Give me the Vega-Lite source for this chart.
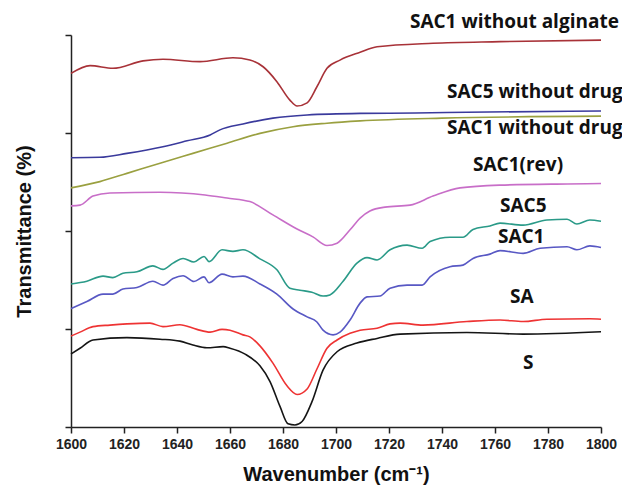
{
  "$schema": "https://vega.github.io/schema/vega-lite/v6.json",
  "width": 530,
  "height": 392,
  "autosize": {"type": "none"},
  "padding": {"left": 71, "top": 35, "right": 21, "bottom": 63},
  "background": "white",
  "config": {"view": {"stroke": null}, "font": "Liberation Sans"},
  "datasets": {
    "spectra": [
      {"sample": "SAC1 without alginate", "wavenumber": 1600, "transmittance": 90.2},
      {"sample": "SAC1 without alginate", "wavenumber": 1607.2, "transmittance": 92.2},
      {"sample": "SAC1 without alginate", "wavenumber": 1615.8, "transmittance": 91.5},
      {"sample": "SAC1 without alginate", "wavenumber": 1627.2, "transmittance": 93.4},
      {"sample": "SAC1 without alginate", "wavenumber": 1634.7, "transmittance": 93.8},
      {"sample": "SAC1 without alginate", "wavenumber": 1648.7, "transmittance": 93.2},
      {"sample": "SAC1 without alginate", "wavenumber": 1661.1, "transmittance": 94.2},
      {"sample": "SAC1 without alginate", "wavenumber": 1667.5, "transmittance": 93.6},
      {"sample": "SAC1 without alginate", "wavenumber": 1672.5, "transmittance": 91.9},
      {"sample": "SAC1 without alginate", "wavenumber": 1677.7, "transmittance": 88.1},
      {"sample": "SAC1 without alginate", "wavenumber": 1682.6, "transmittance": 83.4},
      {"sample": "SAC1 without alginate", "wavenumber": 1685.3, "transmittance": 81.9},
      {"sample": "SAC1 without alginate", "wavenumber": 1689.1, "transmittance": 82.7},
      {"sample": "SAC1 without alginate", "wavenumber": 1692.8, "transmittance": 86.8},
      {"sample": "SAC1 without alginate", "wavenumber": 1696.6, "transmittance": 91.5},
      {"sample": "SAC1 without alginate", "wavenumber": 1701.5, "transmittance": 93.6},
      {"sample": "SAC1 without alginate", "wavenumber": 1709.1, "transmittance": 95.6},
      {"sample": "SAC1 without alginate", "wavenumber": 1715.5, "transmittance": 97.0},
      {"sample": "SAC1 without alginate", "wavenumber": 1736.6, "transmittance": 97.9},
      {"sample": "SAC1 without alginate", "wavenumber": 1761.9, "transmittance": 98.3},
      {"sample": "SAC1 without alginate", "wavenumber": 1800, "transmittance": 98.7},

      {"sample": "SAC5 without drug", "wavenumber": 1600, "transmittance": 68.7},
      {"sample": "SAC5 without drug", "wavenumber": 1610.9, "transmittance": 68.8},
      {"sample": "SAC5 without drug", "wavenumber": 1621.1, "transmittance": 69.8},
      {"sample": "SAC5 without drug", "wavenumber": 1634.7, "transmittance": 71.5},
      {"sample": "SAC5 without drug", "wavenumber": 1643.8, "transmittance": 73.0},
      {"sample": "SAC5 without drug", "wavenumber": 1652.5, "transmittance": 74.5},
      {"sample": "SAC5 without drug", "wavenumber": 1656.2, "transmittance": 75.8},
      {"sample": "SAC5 without drug", "wavenumber": 1664.9, "transmittance": 77.3},
      {"sample": "SAC5 without drug", "wavenumber": 1676.2, "transmittance": 78.8},
      {"sample": "SAC5 without drug", "wavenumber": 1689.1, "transmittance": 79.6},
      {"sample": "SAC5 without drug", "wavenumber": 1709.1, "transmittance": 80.0},
      {"sample": "SAC5 without drug", "wavenumber": 1730, "transmittance": 80.1},
      {"sample": "SAC5 without drug", "wavenumber": 1749.4, "transmittance": 80.3},
      {"sample": "SAC5 without drug", "wavenumber": 1800, "transmittance": 80.6},

      {"sample": "SAC1 without drug", "wavenumber": 1600, "transmittance": 61.0},
      {"sample": "SAC1 without drug", "wavenumber": 1610.9, "transmittance": 62.6},
      {"sample": "SAC1 without drug", "wavenumber": 1621.1, "transmittance": 64.7},
      {"sample": "SAC1 without drug", "wavenumber": 1633.6, "transmittance": 67.3},
      {"sample": "SAC1 without drug", "wavenumber": 1646.0, "transmittance": 69.8},
      {"sample": "SAC1 without drug", "wavenumber": 1658.9, "transmittance": 72.4},
      {"sample": "SAC1 without drug", "wavenumber": 1671.3, "transmittance": 74.9},
      {"sample": "SAC1 without drug", "wavenumber": 1683.8, "transmittance": 76.6},
      {"sample": "SAC1 without drug", "wavenumber": 1696.6, "transmittance": 77.5},
      {"sample": "SAC1 without drug", "wavenumber": 1709.1, "transmittance": 78.1},
      {"sample": "SAC1 without drug", "wavenumber": 1740, "transmittance": 78.8},
      {"sample": "SAC1 without drug", "wavenumber": 1800, "transmittance": 79.3},

      {"sample": "SAC1(rev)", "wavenumber": 1600, "transmittance": 56.4},
      {"sample": "SAC1(rev)", "wavenumber": 1603.4, "transmittance": 56.6},
      {"sample": "SAC1(rev)", "wavenumber": 1608.3, "transmittance": 58.9},
      {"sample": "SAC1(rev)", "wavenumber": 1614.7, "transmittance": 59.7},
      {"sample": "SAC1(rev)", "wavenumber": 1633.6, "transmittance": 59.9},
      {"sample": "SAC1(rev)", "wavenumber": 1650.6, "transmittance": 59.2},
      {"sample": "SAC1(rev)", "wavenumber": 1658.9, "transmittance": 58.4},
      {"sample": "SAC1(rev)", "wavenumber": 1667.5, "transmittance": 57.5},
      {"sample": "SAC1(rev)", "wavenumber": 1676.2, "transmittance": 54.1},
      {"sample": "SAC1(rev)", "wavenumber": 1685.3, "transmittance": 50.5},
      {"sample": "SAC1(rev)", "wavenumber": 1691.3, "transmittance": 48.5},
      {"sample": "SAC1(rev)", "wavenumber": 1696.6, "transmittance": 46.3},
      {"sample": "SAC1(rev)", "wavenumber": 1700.4, "transmittance": 46.9},
      {"sample": "SAC1(rev)", "wavenumber": 1705.3, "transmittance": 50.3},
      {"sample": "SAC1(rev)", "wavenumber": 1709.1, "transmittance": 53.3},
      {"sample": "SAC1(rev)", "wavenumber": 1712.8, "transmittance": 55.1},
      {"sample": "SAC1(rev)", "wavenumber": 1718.5, "transmittance": 56.1},
      {"sample": "SAC1(rev)", "wavenumber": 1727.9, "transmittance": 56.6},
      {"sample": "SAC1(rev)", "wavenumber": 1736.6, "transmittance": 58.9},
      {"sample": "SAC1(rev)", "wavenumber": 1746.8, "transmittance": 61.0},
      {"sample": "SAC1(rev)", "wavenumber": 1761.9, "transmittance": 61.7},
      {"sample": "SAC1(rev)", "wavenumber": 1787.2, "transmittance": 62.0},
      {"sample": "SAC1(rev)", "wavenumber": 1800, "transmittance": 62.1},

      {"sample": "SAC5", "wavenumber": 1600, "transmittance": 36.5},
      {"sample": "SAC5", "wavenumber": 1606.0, "transmittance": 37.2},
      {"sample": "SAC5", "wavenumber": 1612.1, "transmittance": 38.5},
      {"sample": "SAC5", "wavenumber": 1615.8, "transmittance": 38.1},
      {"sample": "SAC5", "wavenumber": 1619.6, "transmittance": 39.2},
      {"sample": "SAC5", "wavenumber": 1624.9, "transmittance": 39.6},
      {"sample": "SAC5", "wavenumber": 1630.9, "transmittance": 41.1},
      {"sample": "SAC5", "wavenumber": 1634.7, "transmittance": 40.2},
      {"sample": "SAC5", "wavenumber": 1638.5, "transmittance": 41.8},
      {"sample": "SAC5", "wavenumber": 1642.3, "transmittance": 43.0},
      {"sample": "SAC5", "wavenumber": 1646.4, "transmittance": 42.1},
      {"sample": "SAC5", "wavenumber": 1650.2, "transmittance": 43.5},
      {"sample": "SAC5", "wavenumber": 1652.1, "transmittance": 42.2},
      {"sample": "SAC5", "wavenumber": 1657.0, "transmittance": 45.2},
      {"sample": "SAC5", "wavenumber": 1661.1, "transmittance": 44.8},
      {"sample": "SAC5", "wavenumber": 1664.9, "transmittance": 45.2},
      {"sample": "SAC5", "wavenumber": 1671.3, "transmittance": 42.9},
      {"sample": "SAC5", "wavenumber": 1677.7, "transmittance": 40.1},
      {"sample": "SAC5", "wavenumber": 1682.6, "transmittance": 35.4},
      {"sample": "SAC5", "wavenumber": 1686.4, "transmittance": 34.9},
      {"sample": "SAC5", "wavenumber": 1690.9, "transmittance": 34.4},
      {"sample": "SAC5", "wavenumber": 1695.1, "transmittance": 33.4},
      {"sample": "SAC5", "wavenumber": 1697.7, "transmittance": 33.7},
      {"sample": "SAC5", "wavenumber": 1702.6, "transmittance": 37.1},
      {"sample": "SAC5", "wavenumber": 1707.9, "transmittance": 41.8},
      {"sample": "SAC5", "wavenumber": 1711.7, "transmittance": 43.2},
      {"sample": "SAC5", "wavenumber": 1715.5, "transmittance": 42.6},
      {"sample": "SAC5", "wavenumber": 1720.4, "transmittance": 45.2},
      {"sample": "SAC5", "wavenumber": 1726.8, "transmittance": 46.4},
      {"sample": "SAC5", "wavenumber": 1732.5, "transmittance": 45.6},
      {"sample": "SAC5", "wavenumber": 1735.5, "transmittance": 47.3},
      {"sample": "SAC5", "wavenumber": 1743.0, "transmittance": 48.4},
      {"sample": "SAC5", "wavenumber": 1747.9, "transmittance": 48.4},
      {"sample": "SAC5", "wavenumber": 1751.7, "transmittance": 50.4},
      {"sample": "SAC5", "wavenumber": 1758.1, "transmittance": 51.3},
      {"sample": "SAC5", "wavenumber": 1761.9, "transmittance": 52.0},
      {"sample": "SAC5", "wavenumber": 1770.6, "transmittance": 51.5},
      {"sample": "SAC5", "wavenumber": 1779.6, "transmittance": 52.8},
      {"sample": "SAC5", "wavenumber": 1787.2, "transmittance": 53.0},
      {"sample": "SAC5", "wavenumber": 1790.9, "transmittance": 51.8},
      {"sample": "SAC5", "wavenumber": 1795.8, "transmittance": 52.8},
      {"sample": "SAC5", "wavenumber": 1800, "transmittance": 52.5},

      {"sample": "SAC1", "wavenumber": 1600, "transmittance": 30.2},
      {"sample": "SAC1", "wavenumber": 1606.0, "transmittance": 32.0},
      {"sample": "SAC1", "wavenumber": 1612.1, "transmittance": 33.9},
      {"sample": "SAC1", "wavenumber": 1615.8, "transmittance": 33.9},
      {"sample": "SAC1", "wavenumber": 1619.6, "transmittance": 35.2},
      {"sample": "SAC1", "wavenumber": 1624.9, "transmittance": 35.6},
      {"sample": "SAC1", "wavenumber": 1630.9, "transmittance": 37.2},
      {"sample": "SAC1", "wavenumber": 1634.7, "transmittance": 36.2},
      {"sample": "SAC1", "wavenumber": 1638.5, "transmittance": 37.9},
      {"sample": "SAC1", "wavenumber": 1642.3, "transmittance": 38.6},
      {"sample": "SAC1", "wavenumber": 1646.4, "transmittance": 37.1},
      {"sample": "SAC1", "wavenumber": 1650.2, "transmittance": 38.3},
      {"sample": "SAC1", "wavenumber": 1652.1, "transmittance": 36.8},
      {"sample": "SAC1", "wavenumber": 1657.0, "transmittance": 39.0},
      {"sample": "SAC1", "wavenumber": 1661.1, "transmittance": 38.3},
      {"sample": "SAC1", "wavenumber": 1664.9, "transmittance": 38.5},
      {"sample": "SAC1", "wavenumber": 1671.3, "transmittance": 36.5},
      {"sample": "SAC1", "wavenumber": 1677.7, "transmittance": 33.9},
      {"sample": "SAC1", "wavenumber": 1683.8, "transmittance": 30.1},
      {"sample": "SAC1", "wavenumber": 1689.1, "transmittance": 28.1},
      {"sample": "SAC1", "wavenumber": 1692.8, "transmittance": 26.8},
      {"sample": "SAC1", "wavenumber": 1695.1, "transmittance": 24.7},
      {"sample": "SAC1", "wavenumber": 1698.9, "transmittance": 23.5},
      {"sample": "SAC1", "wavenumber": 1701.5, "transmittance": 24.2},
      {"sample": "SAC1", "wavenumber": 1705.3, "transmittance": 27.3},
      {"sample": "SAC1", "wavenumber": 1709.1, "transmittance": 31.6},
      {"sample": "SAC1", "wavenumber": 1711.7, "transmittance": 33.2},
      {"sample": "SAC1", "wavenumber": 1716.6, "transmittance": 33.4},
      {"sample": "SAC1", "wavenumber": 1720.4, "transmittance": 35.4},
      {"sample": "SAC1", "wavenumber": 1726.8, "transmittance": 36.2},
      {"sample": "SAC1", "wavenumber": 1732.5, "transmittance": 36.2},
      {"sample": "SAC1", "wavenumber": 1735.5, "transmittance": 38.3},
      {"sample": "SAC1", "wavenumber": 1743.0, "transmittance": 40.9},
      {"sample": "SAC1", "wavenumber": 1747.9, "transmittance": 41.3},
      {"sample": "SAC1", "wavenumber": 1751.7, "transmittance": 43.0},
      {"sample": "SAC1", "wavenumber": 1758.1, "transmittance": 44.1},
      {"sample": "SAC1", "wavenumber": 1761.9, "transmittance": 45.0},
      {"sample": "SAC1", "wavenumber": 1770.6, "transmittance": 44.3},
      {"sample": "SAC1", "wavenumber": 1777.0, "transmittance": 45.6},
      {"sample": "SAC1", "wavenumber": 1787.2, "transmittance": 46.0},
      {"sample": "SAC1", "wavenumber": 1790.9, "transmittance": 45.2},
      {"sample": "SAC1", "wavenumber": 1795.8, "transmittance": 46.2},
      {"sample": "SAC1", "wavenumber": 1800, "transmittance": 45.8},

      {"sample": "SA", "wavenumber": 1600, "transmittance": 23.2},
      {"sample": "SA", "wavenumber": 1603.4, "transmittance": 24.2},
      {"sample": "SA", "wavenumber": 1608.3, "transmittance": 25.6},
      {"sample": "SA", "wavenumber": 1614.7, "transmittance": 26.0},
      {"sample": "SA", "wavenumber": 1621.1, "transmittance": 26.3},
      {"sample": "SA", "wavenumber": 1629.8, "transmittance": 26.5},
      {"sample": "SA", "wavenumber": 1634.7, "transmittance": 25.6},
      {"sample": "SA", "wavenumber": 1641.1, "transmittance": 26.1},
      {"sample": "SA", "wavenumber": 1647.5, "transmittance": 24.9},
      {"sample": "SA", "wavenumber": 1652.5, "transmittance": 24.2},
      {"sample": "SA", "wavenumber": 1657.0, "transmittance": 24.9},
      {"sample": "SA", "wavenumber": 1660.0, "transmittance": 24.7},
      {"sample": "SA", "wavenumber": 1664.9, "transmittance": 23.5},
      {"sample": "SA", "wavenumber": 1667.5, "transmittance": 23.0},
      {"sample": "SA", "wavenumber": 1671.3, "transmittance": 20.7},
      {"sample": "SA", "wavenumber": 1676.2, "transmittance": 16.3},
      {"sample": "SA", "wavenumber": 1681.5, "transmittance": 10.5},
      {"sample": "SA", "wavenumber": 1685.3, "transmittance": 8.3},
      {"sample": "SA", "wavenumber": 1689.1, "transmittance": 9.7},
      {"sample": "SA", "wavenumber": 1692.8, "transmittance": 14.8},
      {"sample": "SA", "wavenumber": 1696.6, "transmittance": 20.1},
      {"sample": "SA", "wavenumber": 1700.4, "transmittance": 22.2},
      {"sample": "SA", "wavenumber": 1705.3, "transmittance": 23.9},
      {"sample": "SA", "wavenumber": 1709.1, "transmittance": 24.7},
      {"sample": "SA", "wavenumber": 1715.5, "transmittance": 25.2},
      {"sample": "SA", "wavenumber": 1720.4, "transmittance": 26.3},
      {"sample": "SA", "wavenumber": 1724.2, "transmittance": 26.5},
      {"sample": "SA", "wavenumber": 1732.8, "transmittance": 26.0},
      {"sample": "SA", "wavenumber": 1749.4, "transmittance": 26.9},
      {"sample": "SA", "wavenumber": 1761.9, "transmittance": 27.3},
      {"sample": "SA", "wavenumber": 1770.6, "transmittance": 26.9},
      {"sample": "SA", "wavenumber": 1779.6, "transmittance": 27.5},
      {"sample": "SA", "wavenumber": 1795.8, "transmittance": 27.6},
      {"sample": "SA", "wavenumber": 1800, "transmittance": 27.5},

      {"sample": "S", "wavenumber": 1600, "transmittance": 18.6},
      {"sample": "S", "wavenumber": 1603.4, "transmittance": 20.1},
      {"sample": "S", "wavenumber": 1608.3, "transmittance": 22.2},
      {"sample": "S", "wavenumber": 1621.1, "transmittance": 22.8},
      {"sample": "S", "wavenumber": 1633.6, "transmittance": 22.4},
      {"sample": "S", "wavenumber": 1641.1, "transmittance": 21.9},
      {"sample": "S", "wavenumber": 1646.0, "transmittance": 20.9},
      {"sample": "S", "wavenumber": 1651.3, "transmittance": 20.2},
      {"sample": "S", "wavenumber": 1657.4, "transmittance": 20.5},
      {"sample": "S", "wavenumber": 1660.0, "transmittance": 20.1},
      {"sample": "S", "wavenumber": 1665.7, "transmittance": 18.6},
      {"sample": "S", "wavenumber": 1671.3, "transmittance": 15.6},
      {"sample": "S", "wavenumber": 1675.1, "transmittance": 11.6},
      {"sample": "S", "wavenumber": 1678.9, "transmittance": 5.2},
      {"sample": "S", "wavenumber": 1681.9, "transmittance": 0.8},
      {"sample": "S", "wavenumber": 1684.5, "transmittance": 0.5},
      {"sample": "S", "wavenumber": 1687.2, "transmittance": 1.4},
      {"sample": "S", "wavenumber": 1690.9, "transmittance": 6.4},
      {"sample": "S", "wavenumber": 1695.1, "transmittance": 14.5},
      {"sample": "S", "wavenumber": 1700.4, "transmittance": 19.2},
      {"sample": "S", "wavenumber": 1707.9, "transmittance": 21.4},
      {"sample": "S", "wavenumber": 1715.5, "transmittance": 22.6},
      {"sample": "S", "wavenumber": 1724.2, "transmittance": 23.7},
      {"sample": "S", "wavenumber": 1749.4, "transmittance": 24.1},
      {"sample": "S", "wavenumber": 1770.6, "transmittance": 23.7},
      {"sample": "S", "wavenumber": 1800, "transmittance": 24.3}
    ],
    "labels": [
      {"label": "SAC1 without alginate", "wavenumber": 1727.9, "transmittance": 101.8},
      {"label": "SAC5 without drug", "wavenumber": 1741.9, "transmittance": 83.9},
      {"label": "SAC1 without drug", "wavenumber": 1741.9, "transmittance": 74.7},
      {"label": "SAC1(rev)", "wavenumber": 1751.7, "transmittance": 65.3},
      {"label": "SAC5", "wavenumber": 1761.9, "transmittance": 54.8},
      {"label": "SAC1", "wavenumber": 1761.1, "transmittance": 46.9},
      {"label": "SA", "wavenumber": 1765.7, "transmittance": 31.6},
      {"label": "S", "wavenumber": 1770.6, "transmittance": 14.8}
    ]
  },
  "layer": [
    {
      "data": {"name": "spectra"},
      "mark": {"type": "line", "strokeWidth": 1.6, "interpolate": "monotone"},
      "encoding": {
        "x": {
          "field": "wavenumber",
          "type": "quantitative",
          "scale": {"domain": [1600, 1800], "nice": false, "zero": false},
          "axis": {
            "title": "Wavenumber (cm⁻¹)",
            "values": [1600, 1610, 1620, 1630, 1640, 1650, 1660, 1670, 1680, 1690, 1700, 1710, 1720, 1730, 1740, 1750, 1760, 1770, 1780, 1790, 1800],
            "format": "d",
            "labelExpr": "datum.value % 20 === 0 ? datum.label : ''",
            "tickSize": {"condition": {"test": "datum.value % 20 === 0", "value": 6}, "value": 3},
            "grid": false,
            "domainColor": "#222222",
            "domainWidth": 1.5,
            "tickColor": "#222222",
            "tickWidth": 1.5,
            "labelFont": "Liberation Sans",
            "labelFontWeight": "bold",
            "labelFontSize": 14,
            "labelColor": "#222222",
            "labelPadding": 4,
            "labelOverlap": false,
            "labelFlush": false,
            "titleFont": "Liberation Sans",
            "titleFontWeight": "bold",
            "titleFontSize": 20,
            "titleColor": "#111111",
            "titleBaseline": "middle",
            "titleY": 47
          }
        },
        "y": {
          "field": "transmittance",
          "type": "quantitative",
          "scale": {"domain": [0, 100], "nice": false, "zero": false},
          "axis": {
            "title": "Transmittance (%)",
            "values": [0, 25, 50, 75, 100],
            "labels": false,
            "grid": false,
            "tickSize": 6,
            "domainColor": "#222222",
            "domainWidth": 1.5,
            "tickColor": "#222222",
            "tickWidth": 1.5,
            "titleFont": "Liberation Sans",
            "titleFontWeight": "bold",
            "titleFontSize": 20,
            "titleColor": "#111111",
            "titleAngle": -90,
            "titleAlign": "center",
            "titleBaseline": "middle",
            "titleX": -47,
            "titleY": 196
          }
        },
        "color": {
          "field": "sample",
          "type": "nominal",
          "scale": {
            "domain": ["SAC1 without alginate", "SAC5 without drug", "SAC1 without drug", "SAC1(rev)", "SAC5", "SAC1", "SA", "S"],
            "range": ["#a83238", "#3a3a9c", "#9aa040", "#c86ec8", "#2a9a88", "#5858c4", "#ee3333", "#151515"]
          },
          "legend": null
        }
      }
    },
    {
      "data": {"name": "labels"},
      "mark": {"type": "text", "align": "left", "baseline": "alphabetic", "font": "Open Sans", "fontWeight": "bold", "fontSize": 19, "color": "#111111"},
      "encoding": {
        "x": {"field": "wavenumber", "type": "quantitative"},
        "y": {"field": "transmittance", "type": "quantitative"},
        "text": {"field": "label"}
      }
    }
  ]
}
